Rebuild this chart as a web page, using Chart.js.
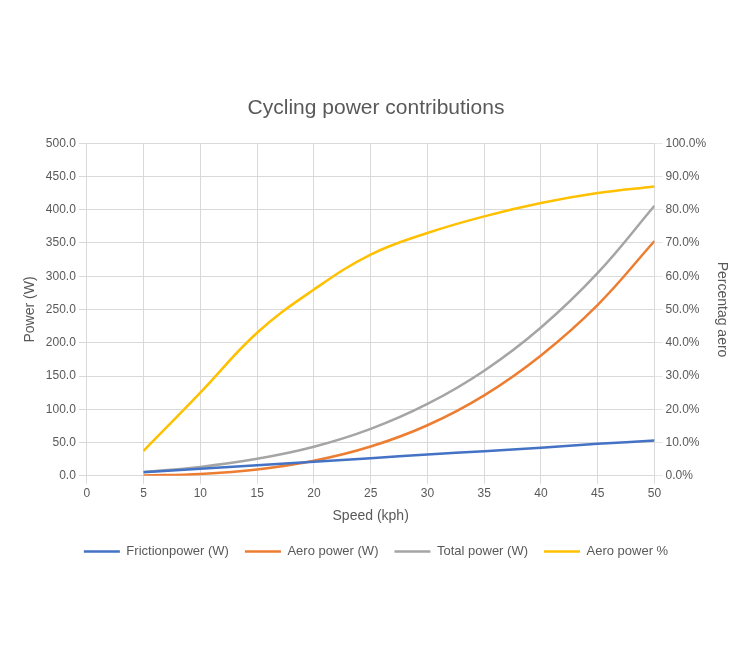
<!DOCTYPE html>
<html>
<head>
<meta charset="utf-8">
<script src="https://cdn.jsdelivr.net/npm/chart.js@4"></script>
<style>
  html, body { margin: 0; padding: 0; background: #fff; }
  #wrap { width: 748px; height: 660px; }
</style>
</head>
<body>
<div id="wrap"><canvas id="powerChart"></canvas></div>
<script>
const speeds = [5, 10, 15, 20, 25, 30, 35, 40, 45, 50];
const frictionPower = [5.3, 10.6, 16, 21, 26.5, 32, 37, 42, 48, 53];
const aeroPower = [0.4, 2.8, 9.5, 22.6, 44, 76, 121, 181, 257, 353];
const totalPower = [5.7, 13.4, 25.5, 43.6, 70.5, 108, 158, 223, 305, 406];
const aeroPercent = [0.075, 0.25, 0.43, 0.56, 0.665, 0.73, 0.78, 0.82, 0.85, 0.87];

const textColor = "#595959";
const gridColor = "#d9d9d9";
const font = "'Liberation Sans', 'Noto Sans', sans-serif";

function points(values) {
  return speeds.map((s, i) => ({ x: s, y: values[i] }));
}

function series(label, values, color, axis) {
  return {
    label: label,
    data: points(values),
    borderColor: color,
    backgroundColor: color,
    borderWidth: 2.5,
    pointRadius: 0,
    fill: false,
    tension: 0.4,
    yAxisID: axis
  };
}

new Chart(document.getElementById("powerChart").getContext("2d"), {
  type: "line",
  data: {
    datasets: [
      series("Frictionpower (W)", frictionPower, "#4472C4", "y"),
      series("Aero power (W)", aeroPower, "#ED7D31", "y"),
      series("Total power (W)", totalPower, "#A5A5A5", "y"),
      series("Aero power %", aeroPercent, "#FFC000", "y1")
    ]
  },
  options: {
    responsive: true,
    maintainAspectRatio: false,
    animation: false,
    layout: { padding: { top: 96, left: 18, right: 14, bottom: 92 } },
    plugins: {
      title: {
        display: true,
        text: "Cycling power contributions",
        color: textColor,
        font: { family: font, size: 21, weight: "normal" },
        padding: { bottom: 22 }
      },
      legend: {
        position: "bottom",
        labels: {
          usePointStyle: true,
          pointStyle: "line",
          pointStyleWidth: 36,
          color: textColor,
          font: { family: font, size: 13 },
          padding: 16
        }
      },
      tooltip: { enabled: false }
    },
    scales: {
      x: {
        type: "linear",
        min: 0,
        max: 50,
        ticks: { stepSize: 5, color: textColor, font: { family: font, size: 12 } },
        grid: { color: gridColor },
        border: { color: gridColor },
        title: { display: true, text: "Speed (kph)", color: textColor, font: { family: font, size: 14 } }
      },
      y: {
        position: "left",
        min: 0,
        max: 500,
        ticks: { stepSize: 50, color: textColor, font: { family: font, size: 12 },
          callback: v => v.toFixed(1) },
        grid: { color: gridColor },
        border: { display: false },
        title: { display: true, text: "Power (W)", color: textColor, font: { family: font, size: 14 } }
      },
      y1: {
        position: "right",
        min: 0,
        max: 1,
        ticks: { stepSize: 0.1, color: textColor, font: { family: font, size: 12 },
          callback: v => (v * 100).toFixed(1) + "%" },
        grid: { drawOnChartArea: false },
        border: { display: false },
        title: { display: true, text: "Percentag aero", color: textColor, font: { family: font, size: 14 } }
      }
    }
  }
});
</script>
</body>
</html>
